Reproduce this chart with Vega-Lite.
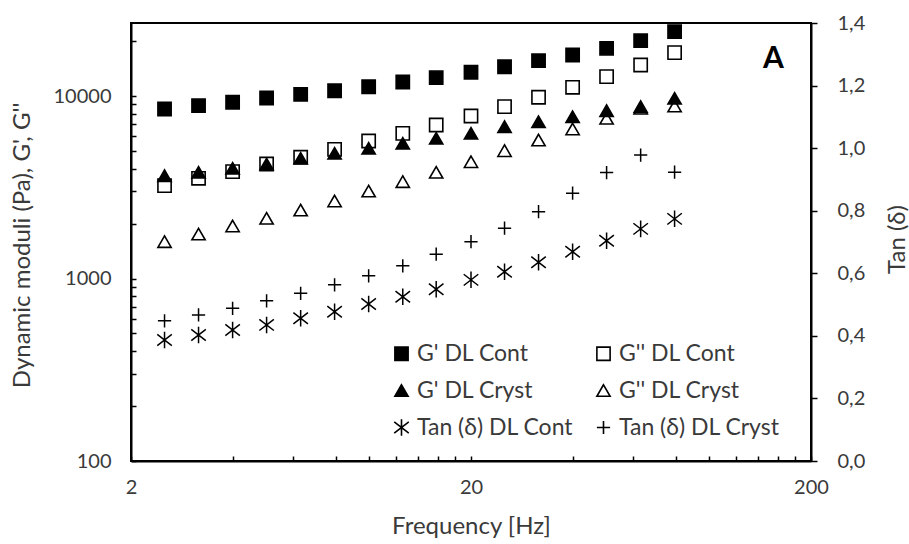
{
  "$schema": "https://vega.github.io/schema/vega-lite/v6.json",
  "width": 680,
  "height": 438,
  "autosize": {"type": "none"},
  "padding": {"left": 131, "top": 23, "right": 98, "bottom": 83},
  "background": "white",
  "config": {
    "font": "Lato",
    "view": {"stroke": "black", "strokeWidth": 2},
    "axis": {
      "labelFont": "Lato",
      "titleFont": "Lato",
      "labelFontSize": 20,
      "titleFontSize": 24,
      "labelColor": "#3a3a3a",
      "titleColor": "#3a3a3a",
      "titleFontWeight": "normal",
      "domainColor": "black",
      "domainWidth": 2,
      "tickColor": "black",
      "tickWidth": 1.5,
      "grid": false,
      "labelOverlap": false,
      "labelFlush": false
    },
    "legend": {
      "orient": "none",
      "legendX": 259,
      "legendY": 319,
      "columns": 2,
      "direction": "horizontal",
      "padding": 0,
      "labelFont": "Lato",
      "labelFontSize": 23,
      "labelColor": "#3a3a3a",
      "labelOffset": 4,
      "symbolSize": 175,
      "symbolStrokeWidth": 1.6,
      "rowPadding": 13,
      "columnPadding": 19
    }
  },
  "datasets": {
    "moduli": [
      {"f": 2.51, "series": "G' DL Cont", "v": 8490},
      {"f": 3.16, "series": "G' DL Cont", "v": 8850},
      {"f": 3.98, "series": "G' DL Cont", "v": 9240},
      {"f": 5.01, "series": "G' DL Cont", "v": 9750},
      {"f": 6.31, "series": "G' DL Cont", "v": 10200},
      {"f": 7.94, "series": "G' DL Cont", "v": 10690},
      {"f": 10, "series": "G' DL Cont", "v": 11240},
      {"f": 12.6, "series": "G' DL Cont", "v": 11930},
      {"f": 15.8, "series": "G' DL Cont", "v": 12600},
      {"f": 20, "series": "G' DL Cont", "v": 13490},
      {"f": 25.1, "series": "G' DL Cont", "v": 14470},
      {"f": 31.6, "series": "G' DL Cont", "v": 15610},
      {"f": 39.8, "series": "G' DL Cont", "v": 16780},
      {"f": 50.1, "series": "G' DL Cont", "v": 18250},
      {"f": 63.1, "series": "G' DL Cont", "v": 20090},
      {"f": 79.4, "series": "G' DL Cont", "v": 22510},

      {"f": 2.51, "series": "G'' DL Cont", "v": 3225},
      {"f": 3.16, "series": "G'' DL Cont", "v": 3540},
      {"f": 3.98, "series": "G'' DL Cont", "v": 3850},
      {"f": 5.01, "series": "G'' DL Cont", "v": 4240},
      {"f": 6.31, "series": "G'' DL Cont", "v": 4620},
      {"f": 7.94, "series": "G'' DL Cont", "v": 5100},
      {"f": 10, "series": "G'' DL Cont", "v": 5670},
      {"f": 12.6, "series": "G'' DL Cont", "v": 6245},
      {"f": 15.8, "series": "G'' DL Cont", "v": 6935},
      {"f": 20, "series": "G'' DL Cont", "v": 7770},
      {"f": 25.1, "series": "G'' DL Cont", "v": 8740},
      {"f": 31.6, "series": "G'' DL Cont", "v": 9840},
      {"f": 39.8, "series": "G'' DL Cont", "v": 11160},
      {"f": 50.1, "series": "G'' DL Cont", "v": 12760},
      {"f": 63.1, "series": "G'' DL Cont", "v": 14790},
      {"f": 79.4, "series": "G'' DL Cont", "v": 17280},

      {"f": 2.51, "series": "G' DL Cryst", "v": 3660},
      {"f": 3.16, "series": "G' DL Cryst", "v": 3820},
      {"f": 3.98, "series": "G' DL Cryst", "v": 4015},
      {"f": 5.01, "series": "G' DL Cryst", "v": 4240},
      {"f": 6.31, "series": "G' DL Cryst", "v": 4555},
      {"f": 7.94, "series": "G' DL Cryst", "v": 4855},
      {"f": 10, "series": "G' DL Cryst", "v": 5170},
      {"f": 12.6, "series": "G' DL Cryst", "v": 5505},
      {"f": 15.8, "series": "G' DL Cryst", "v": 5865},
      {"f": 20, "series": "G' DL Cryst", "v": 6245},
      {"f": 25.1, "series": "G' DL Cryst", "v": 6790},
      {"f": 31.6, "series": "G' DL Cryst", "v": 7230},
      {"f": 39.8, "series": "G' DL Cryst", "v": 7700},
      {"f": 50.1, "series": "G' DL Cryst", "v": 8310},
      {"f": 63.1, "series": "G' DL Cryst", "v": 8740},
      {"f": 79.4, "series": "G' DL Cryst", "v": 9710},

      {"f": 2.51, "series": "G'' DL Cryst", "v": 1591},
      {"f": 3.16, "series": "G'' DL Cryst", "v": 1753},
      {"f": 3.98, "series": "G'' DL Cryst", "v": 1940},
      {"f": 5.01, "series": "G'' DL Cryst", "v": 2137},
      {"f": 6.31, "series": "G'' DL Cryst", "v": 2373},
      {"f": 7.94, "series": "G'' DL Cryst", "v": 2660},
      {"f": 10, "series": "G'' DL Cryst", "v": 3016},
      {"f": 12.6, "series": "G'' DL Cryst", "v": 3393},
      {"f": 15.8, "series": "G'' DL Cryst", "v": 3820},
      {"f": 20, "series": "G'' DL Cryst", "v": 4365},
      {"f": 25.1, "series": "G'' DL Cryst", "v": 5015},
      {"f": 31.6, "series": "G'' DL Cryst", "v": 5740},
      {"f": 39.8, "series": "G'' DL Cryst", "v": 6595},
      {"f": 50.1, "series": "G'' DL Cryst", "v": 7550},
      {"f": 63.1, "series": "G'' DL Cryst", "v": 8560},
      {"f": 79.4, "series": "G'' DL Cryst", "v": 8815}
    ],
    "tan": [
      {"f": 2.51, "series": "Tan (δ) DL Cont", "v": 0.387},
      {"f": 3.16, "series": "Tan (δ) DL Cont", "v": 0.403},
      {"f": 3.98, "series": "Tan (δ) DL Cont", "v": 0.419},
      {"f": 5.01, "series": "Tan (δ) DL Cont", "v": 0.435},
      {"f": 6.31, "series": "Tan (δ) DL Cont", "v": 0.456},
      {"f": 7.94, "series": "Tan (δ) DL Cont", "v": 0.477},
      {"f": 10, "series": "Tan (δ) DL Cont", "v": 0.502},
      {"f": 12.6, "series": "Tan (δ) DL Cont", "v": 0.525},
      {"f": 15.8, "series": "Tan (δ) DL Cont", "v": 0.549},
      {"f": 20, "series": "Tan (δ) DL Cont", "v": 0.579},
      {"f": 25.1, "series": "Tan (δ) DL Cont", "v": 0.605},
      {"f": 31.6, "series": "Tan (δ) DL Cont", "v": 0.635},
      {"f": 39.8, "series": "Tan (δ) DL Cont", "v": 0.669},
      {"f": 50.1, "series": "Tan (δ) DL Cont", "v": 0.704},
      {"f": 63.1, "series": "Tan (δ) DL Cont", "v": 0.742},
      {"f": 79.4, "series": "Tan (δ) DL Cont", "v": 0.774},

      {"f": 2.51, "series": "Tan (δ) DL Cryst", "v": 0.448},
      {"f": 3.16, "series": "Tan (δ) DL Cryst", "v": 0.467},
      {"f": 3.98, "series": "Tan (δ) DL Cryst", "v": 0.488},
      {"f": 5.01, "series": "Tan (δ) DL Cryst", "v": 0.512},
      {"f": 6.31, "series": "Tan (δ) DL Cryst", "v": 0.536},
      {"f": 7.94, "series": "Tan (δ) DL Cryst", "v": 0.563},
      {"f": 10, "series": "Tan (δ) DL Cryst", "v": 0.592},
      {"f": 12.6, "series": "Tan (δ) DL Cryst", "v": 0.624},
      {"f": 15.8, "series": "Tan (δ) DL Cryst", "v": 0.661},
      {"f": 20, "series": "Tan (δ) DL Cryst", "v": 0.701},
      {"f": 25.1, "series": "Tan (δ) DL Cryst", "v": 0.744},
      {"f": 31.6, "series": "Tan (δ) DL Cryst", "v": 0.797},
      {"f": 39.8, "series": "Tan (δ) DL Cryst", "v": 0.856},
      {"f": 50.1, "series": "Tan (δ) DL Cryst", "v": 0.922},
      {"f": 63.1, "series": "Tan (δ) DL Cryst", "v": 0.978},
      {"f": 79.4, "series": "Tan (δ) DL Cryst", "v": 0.923}
    ],
    "panel": [
      {"f": 155, "v": 15950, "label": "A"}
    ]
  },
  "layer": [
    {
      "data": {"name": "moduli"},
      "mark": {"type": "point", "strokeWidth": 1.6, "opacity": 1, "size": 175},
      "encoding": {
        "x": {
          "field": "f",
          "type": "quantitative",
          "scale": {"type": "log", "domain": [2, 200], "nice": false},
          "axis": {
            "title": "Frequency [Hz]",
            "values": [2, 4, 6, 8, 10, 12, 14, 16, 18, 20, 40, 60, 80, 100, 120, 140, 160, 180, 200],
            "format": "d",
            "labelExpr": "datum.value == 2 || datum.value == 20 || datum.value == 200 ? datum.label : ''",
            "tickSize": -5,
            "labelPadding": 21,
            "titleX": 340,
            "titleY": 65,
            "titleBaseline": "middle"
          }
        },
        "y": {
          "field": "v",
          "type": "quantitative",
          "scale": {"type": "log", "domain": [100, 25119], "nice": false},
          "axis": {
            "title": "Dynamic moduli (Pa), G', G''",
            "orient": "left",
            "values": [100, 200, 300, 400, 500, 600, 700, 800, 900, 1000, 2000, 3000, 4000, 5000, 6000, 7000, 8000, 9000, 10000, 20000],
            "format": "d",
            "labelExpr": "datum.value == 100 || datum.value == 1000 || datum.value == 10000 ? datum.label : ''",
            "tickSize": -5,
            "labelPadding": 25,
            "titleX": -109,
            "titleY": 222,
            "titleAngle": 270,
            "titleAlign": "center",
            "titleBaseline": "middle"
          }
        },
        "shape": {
          "field": "series",
          "type": "nominal",
          "scale": {
            "domain": ["G' DL Cont", "G'' DL Cont", "G' DL Cryst", "G'' DL Cryst", "Tan (δ) DL Cont", "Tan (δ) DL Cryst"],
            "range": ["square", "square", "triangle-up", "triangle-up", "M0,-1.25L0,1.25M-1.1,-0.85L1.1,0.85M-1.1,0.85L1.1,-0.85", "M-1,0L1,0M0,-1L0,1"]
          },
          "legend": {"title": null}
        },
        "fill": {
          "field": "series",
          "type": "nominal",
          "scale": {
            "domain": ["G' DL Cont", "G'' DL Cont", "G' DL Cryst", "G'' DL Cryst", "Tan (δ) DL Cont", "Tan (δ) DL Cryst"],
            "range": ["black", "transparent", "black", "transparent", "transparent", "transparent"]
          },
          "legend": {"title": null}
        },
        "stroke": {
          "field": "series",
          "type": "nominal",
          "scale": {
            "domain": ["G' DL Cont", "G'' DL Cont", "G' DL Cryst", "G'' DL Cryst", "Tan (δ) DL Cont", "Tan (δ) DL Cryst"],
            "range": ["black", "black", "black", "black", "black", "black"]
          },
          "legend": {"title": null}
        }
      }
    },
    {
      "data": {"name": "tan"},
      "mark": {"type": "point", "strokeWidth": 1.5, "opacity": 1, "size": 175},
      "encoding": {
        "x": {"field": "f", "type": "quantitative", "scale": {"type": "log", "domain": [2, 200], "nice": false}},
        "y": {
          "field": "v",
          "type": "quantitative",
          "scale": {"domain": [0, 1.4], "nice": false, "zero": true},
          "axis": {
            "title": "Tan (δ)",
            "orient": "right",
            "values": [0, 0.2, 0.4, 0.6, 0.8, 1.0, 1.2, 1.4],
            "format": ".1f",
            "labelExpr": "replace(datum.label, '.', ',')",
            "tickSize": 6,
            "labelPadding": 20,
            "titleX": 86,
            "titleY": 216,
            "titleAngle": 270,
            "titleAlign": "center",
            "titleBaseline": "middle"
          }
        },
        "shape": {"field": "series", "type": "nominal"},
        "fill": {"field": "series", "type": "nominal"},
        "stroke": {"field": "series", "type": "nominal"}
      }
    },
    {
      "data": {"name": "panel"},
      "mark": {"type": "text", "font": "Lato", "fontSize": 30, "fontWeight": "bold", "color": "black", "baseline": "middle", "align": "center"},
      "encoding": {
        "x": {"field": "f", "type": "quantitative", "scale": {"type": "log", "domain": [2, 200], "nice": false}},
        "y": {"field": "v", "type": "quantitative", "scale": {"type": "log", "domain": [100, 25119], "nice": false}, "axis": null},
        "text": {"field": "label"}
      }
    }
  ],
  "resolve": {"scale": {"y": "independent"}}
}
